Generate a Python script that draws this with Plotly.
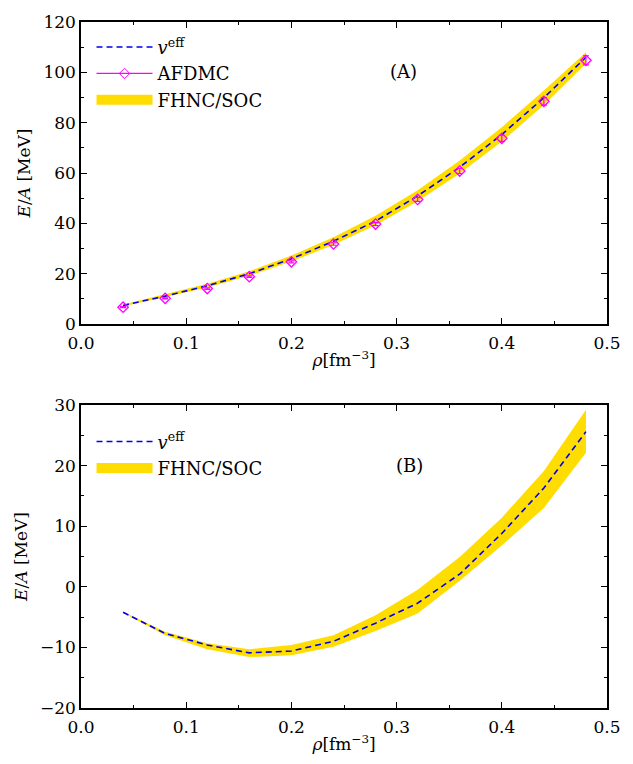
import plotly.graph_objects as go
from plotly.subplots import make_subplots

rho = [0.04, 0.08, 0.12, 0.16, 0.20, 0.24, 0.28, 0.32, 0.36, 0.40, 0.44, 0.48]

# Panel A
veff_a = [7.4, 11.1, 15.2, 20.0, 25.9, 32.9, 40.9, 50.9, 62.3, 75.3, 89.9, 106.0]
fhnc_a_up = [7.8, 11.8, 16.0, 21.0, 27.2, 34.5, 43.0, 53.2, 65.0, 78.2, 92.8, 108.0]
fhnc_a_lo = [7.0, 10.6, 14.5, 19.2, 24.8, 31.5, 39.2, 48.8, 59.8, 72.5, 87.0, 103.5]
afdmc = [6.7, 10.2, 14.1, 18.8, 24.7, 31.8, 39.7, 49.5, 60.8, 73.8, 88.5, 104.8]
afdmc_err = [0.2, 0.2, 0.3, 0.3, 0.4, 0.5, 0.6, 0.8, 1.0, 1.2, 1.5, 1.8]

# Panel B
veff_b = [-4.2, -7.7, -9.6, -10.9, -10.6, -9.0, -6.0, -2.7, 2.1, 8.8, 16.3, 25.6]
fhnc_b_up = [-4.1, -7.4, -9.3, -10.3, -9.6, -8.0, -4.7, -0.5, 4.9, 11.4, 19.1, 29.2]
fhnc_b_lo = [-4.3, -8.0, -10.3, -11.6, -11.3, -9.9, -7.3, -4.4, 1.0, 6.8, 13.0, 22.1]

GOLD = "#FFDD00"
BLUE = "#0000EE"
MAG = "#FF00FF"
FONT = "DejaVu Serif"

fig = make_subplots(rows=2, cols=1)

def add_panel(row, lo, up, line, legend):
    fig.add_trace(go.Scatter(x=rho, y=lo, mode="lines", line=dict(width=0, color=GOLD),
                             showlegend=False, hoverinfo="skip"), row=row, col=1)
    fig.add_trace(go.Scatter(x=rho, y=up, mode="lines", line=dict(width=0, color=GOLD),
                             fill="tonexty", fillcolor=GOLD, name="FHNC/SOC",
                             showlegend=False), row=row, col=1)
    fig.add_trace(go.Scatter(x=rho, y=line, mode="lines",
                             line=dict(color=BLUE, width=1.6, dash="6px,4px"),
                             name="<i>v</i><sup>eff</sup>", legend=legend),
                  row=row, col=1)

add_panel(1, fhnc_a_lo, fhnc_a_up, veff_a, "legend")
fig.add_trace(go.Scatter(x=rho, y=afdmc, mode="markers",
                         marker=dict(symbol="diamond-open", color=MAG, size=8, line=dict(width=1.3)),
                         error_y=dict(type="data", array=afdmc_err, color=MAG, thickness=1.2, width=3),
                         showlegend=False), row=1, col=1)
# legend-only entries
fig.add_trace(go.Scatter(x=[None], y=[None], mode="lines+markers",
                         line=dict(color=MAG, width=1.3),
                         marker=dict(symbol="diamond-open", color=MAG, size=8),
                         name="AFDMC", legend="legend"), row=1, col=1)
fig.add_trace(go.Scatter(x=[None], y=[None], mode="lines", line=dict(color=GOLD, width=14),
                         name="FHNC/SOC", legend="legend"), row=1, col=1)

add_panel(2, fhnc_b_lo, fhnc_b_up, veff_b, "legend2")
fig.add_trace(go.Scatter(x=[None], y=[None], mode="lines", line=dict(color=GOLD, width=14),
                         name="FHNC/SOC", legend="legend2"), row=2, col=1)

axis_common = dict(showline=True, linecolor="black", linewidth=1.5, mirror="ticks",
                   ticks="inside", ticklen=6, tickwidth=1, tickcolor="black",
                   showgrid=False, zeroline=False,
                   tickfont=dict(family=FONT, size=17, color="black"))

for r in (1, 2):
    fig.update_xaxes(range=[0, 0.5], dtick=0.1, tickformat=".1f", ticklabelstandoff=3,
                     minor=dict(dtick=0.05, ticks="inside", ticklen=3, tickcolor="black", showgrid=False),
                     title=dict(text="<i>ρ</i>[fm<sup>−3</sup>]", font=dict(family=FONT, size=17, color="black"),
                                standoff=2),
                     row=r, col=1, **axis_common)

fig.update_yaxes(range=[0, 120], dtick=20,
                 minor=dict(dtick=10, ticks="inside", ticklen=3, tickcolor="black", showgrid=False),
                 title=dict(text="<i>E</i>/<i>A</i> [MeV]", font=dict(family=FONT, size=17, color="black"),
                            standoff=8),
                 row=1, col=1, **axis_common)
fig.update_yaxes(range=[-20, 30], dtick=10,
                 minor=dict(dtick=5, ticks="inside", ticklen=3, tickcolor="black", showgrid=False),
                 title=dict(text="<i>E</i>/<i>A</i> [MeV]", font=dict(family=FONT, size=17, color="black"),
                            standoff=8),
                 row=2, col=1, **axis_common)

H = 764
top, bot = 13, 56
ph = H - top - bot
fig.update_layout(
    width=633, height=H,
    margin=dict(l=81, r=12, t=top, b=bot),
    plot_bgcolor="white", paper_bgcolor="white",
    font=dict(family=FONT, size=17, color="black"),
    xaxis=dict(domain=[0, 1]), xaxis2=dict(domain=[0, 1]),
    yaxis=dict(domain=[(708 - 319) / ph, 1]),
    yaxis2=dict(domain=[0, (708 - 401) / ph]),
    legend=dict(x=0.02, y=0.99, xanchor="left", yanchor="top", bgcolor="rgba(0,0,0,0)",
                itemwidth=56, font=dict(family=FONT, size=18), tracegroupgap=0, traceorder="normal"),
    legend2=dict(x=0.02, y=0.415, xanchor="left", yanchor="top", bgcolor="rgba(0,0,0,0)",
                 itemwidth=56, font=dict(family=FONT, size=18), tracegroupgap=0, traceorder="normal"),
    annotations=[
        dict(text="(A)", x=0.307, y=100.5, xref="x", yref="y", showarrow=False,
             font=dict(family=FONT, size=18, color="black")),
        dict(text="(B)", x=0.312, y=20, xref="x2", yref="y2", showarrow=False,
             font=dict(family=FONT, size=18, color="black")),
    ],
)

fig.write_html("out.html")
